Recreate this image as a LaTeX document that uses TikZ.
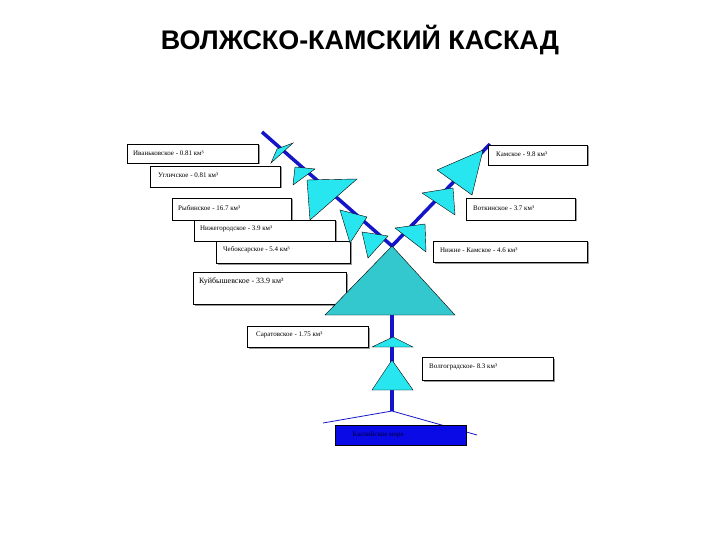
\documentclass[tikz,border=0pt]{standalone}
\usepackage{fontspec}
\setmainfont{Liberation Serif}
\newfontfamily\titlefont{Liberation Sans}
\definecolor{riv}{RGB}{20,20,200}
\definecolor{tri}{RGB}{40,230,240}
\definecolor{bigtri}{RGB}{50,200,205}
\definecolor{sea}{RGB}{10,10,230}
\usetikzlibrary{shadows}
\tikzset{lbl/.style={draw=black,fill=white,drop shadow={shadow xshift=1.5bp,shadow yshift=-1.5bp,fill=black!40,opacity=1}},
 tr/.style={draw=black,fill=tri,line width=0.4pt},
 river/.style={draw=riv,line width=3.5bp},
 txt/.style={font=\fontsize{7}{8}\selectfont,anchor=west,inner sep=0}}
\begin{document}
\begin{tikzpicture}[x=1bp,y=-1bp]
\useasboundingbox (0,0) rectangle (720,540);
\fill[white] (0,0) rectangle (720,540);
\node[font=\titlefont\bfseries\fontsize{27}{30}\selectfont] (title) at (360,40) {ВОЛЖСКО-КАМСКИЙ КАСКАД};
% rivers
\coordinate (ls) at (262,132); \coordinate (rs) at (490,144);
\coordinate (apex) at (392,246); \coordinate (base) at (392,315); \coordinate (mouth) at (392,411);
\draw[river] (ls) -- (apex);
\draw[river] (rs) -- (apex);
\draw[river] (base) -- (mouth);
\coordinate (dl) at (323,423); \coordinate (dr) at (477,435);
\draw[riv,line width=0.8pt] (dl) -- (mouth) -- (dr);
% boxes
\path[lbl] (127,144) rectangle (258,163);
\path[lbl] (150,166) rectangle (280,187);
\path[lbl] (172,198) rectangle (291,220);
\path[lbl] (194,220) rectangle (335,241);
\path[lbl] (216,241) rectangle (350,263);
\path[lbl] (193,272) rectangle (346,304);
\path[lbl] (247,326) rectangle (368,347);
\path[lbl] (422,357) rectangle (553,380);
\path[lbl] (488,145) rectangle (587,165);
\path[lbl] (466,198) rectangle (575,220);
\path[lbl] (433,241) rectangle (587,262);
% triangles
\draw[tr] (271,163) -- (293,143) -- (277,149) -- cycle;
\draw[tr] (293,185) -- (295,167) -- (315,169) -- cycle;
\draw[tr] (307,180) -- (357,179) -- (310,220) -- cycle;
\draw[tr] (340,210) -- (367,217) -- (350,243) -- cycle;
\draw[tr] (362,232) -- (388,236) -- (368,258) -- cycle;
\draw[tr] (437,170) -- (483,150) -- (472,195) -- cycle;
\draw[tr] (422,193) -- (453,188) -- (455,215) -- cycle;
\draw[tr] (395,228) -- (425,224) -- (426,252) -- cycle;
\draw[draw=black,fill=bigtri] (apex) -- (455,315) -- (325,315) -- cycle;
\draw[tr] (372,347) -- (413,347) -- (393,337) -- cycle;
\draw[tr] (372,390) -- (413,390) -- (392,360) -- cycle;
% texts
\node[txt] (t1) at (133,153) {Иваньковское - 0.81 км³};
\node[txt] (t2) at (158,175) {Угличское - 0.81 км³};
\node[txt] (t3) at (178,208) {Рыбинское - 16.7 км³};
\node[txt] (t4) at (200,229) {Нижегородское - 3.9 км³};
\node[txt] (t5) at (223,250) {Чебоксарское - 5.4 км³};
\node[txt,font=\fontsize{8}{9}\selectfont] (t6) at (199,282) {Куйбышевское - 33.9 км³};
\node[txt] (t7) at (256,335) {Саратовское - 1.75 км³};
\node[txt] (t8) at (429,367) {Волгоградское- 8.3 км³};
\node[txt] (t9) at (496,154) {Камское - 9.8 км³};
\node[txt] (t10) at (473,208) {Воткинское - 3.7 км³};
\node[txt] (t11) at (440,250) {Нижне - Камское - 4.6 км³};
\node[draw=black,fill=sea,minimum width=131bp,minimum height=20bp,anchor=north west,inner sep=0,
  text=black!80!blue,font=\fontsize{7}{8}\selectfont] (sea) at (335,425) {\hspace*{-45bp}Каспийское море};
\end{tikzpicture}
\end{document}
